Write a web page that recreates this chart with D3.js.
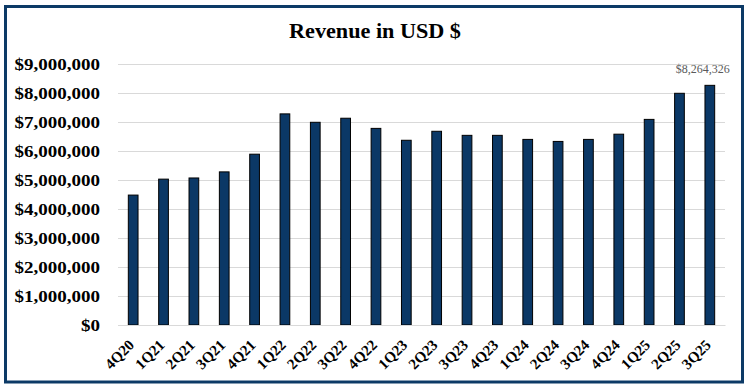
<!DOCTYPE html>
<html lang="en">
<head>
    <meta charset="UTF-8">
    <title>Revenue in USD $</title>
    <script src="https://d3js.org/d3.v7.min.js"></script>
    <style>
        body { margin: 0; background: #fff; }
        text { font-family: "Liberation Serif", "Times New Roman", serif; }
    </style>
</head>
<body>
    <svg id="chart" width="750" height="391"></svg>
    <script>
        // Chart data
        const quarters = ["4Q20", "1Q21", "2Q21", "3Q21", "4Q21", "1Q22", "2Q22", "3Q22", "4Q22", "1Q23",
            "2Q23", "3Q23", "4Q23", "1Q24", "2Q24", "3Q24", "4Q24", "1Q25", "2Q25", "3Q25"];
        const revenue = [4480000, 5030000, 5070000, 5280000, 5890000, 7280000, 6990000, 7130000, 6780000, 6370000,
            6680000, 6540000, 6540000, 6400000, 6330000, 6400000, 6580000, 7090000, 7990000, 8264326];
        const yTicks = [0, 1000000, 2000000, 3000000, 4000000, 5000000, 6000000, 7000000, 8000000, 9000000];

        const svg = d3.select("#chart");
        const margin = { top: 64, right: 25, bottom: 66, left: 118 },
            width = 750 - margin.left - margin.right,
            height = 391 - margin.top - margin.bottom;

        // Outer frame
        svg.append("rect")
            .attr("x", 5.5).attr("y", 6.5)
            .attr("width", 737).attr("height", 375.5)
            .attr("fill", "#fff")
            .attr("stroke", "#0c3a66")
            .attr("stroke-width", 3);

        // Title (the original is slightly stretched horizontally)
        svg.append("g")
            .attr("transform", "translate(375,38)")
            .append("text")
            .attr("text-anchor", "middle")
            .attr("font-size", 20)
            .attr("font-weight", "bold")
            .attr("transform", "scale(1.11,1)")
            .text("Revenue in USD $");

        const g = svg.append("g").attr("transform", `translate(${margin.left},${margin.top})`);

        const x = d3.scaleBand()
            .domain(quarters)
            .range([0, width])
            .paddingInner(0.68)
            .paddingOuter(0.34);

        const y = d3.scaleLinear()
            .domain([0, 9000000])
            .range([height, 0]);

        // Gridlines
        g.append("g")
            .selectAll("line")
            .data(yTicks)
            .enter().append("line")
            .attr("x1", 0).attr("x2", width)
            .attr("y1", d => Math.round(y(d)) + 0.5)
            .attr("y2", d => Math.round(y(d)) + 0.5)
            .attr("stroke", "#d9d9d9")
            .attr("stroke-width", 1);

        // Y axis labels
        const yAxis = g.append("g")
            .call(d3.axisLeft(y).tickValues(yTicks).tickSize(0).tickPadding(16)
                .tickFormat(d => "$" + d3.format(",")(d)));
        yAxis.select(".domain").remove();
        yAxis.selectAll("text")
            .attr("font-size", 17)
            .attr("font-weight", "bold")
            .attr("fill", "#000")
            .attr("transform", "scale(1.12,1)");

        // Bars
        g.selectAll(".bar")
            .data(revenue)
            .enter().append("rect")
            .attr("class", "bar")
            .attr("x", (d, i) => x(quarters[i]))
            .attr("y", d => y(d))
            .attr("width", x.bandwidth())
            .attr("height", d => height - y(d))
            .attr("fill", "#0b3866")
            .attr("stroke", "#000")
            .attr("stroke-width", 1);

        // X axis
        const xAxis = g.append("g")
            .attr("transform", `translate(0,${height})`)
            .call(d3.axisBottom(x).tickSize(0).tickPadding(0));
        xAxis.select(".domain").attr("stroke", "#d9d9d9");
        xAxis.selectAll("text")
            .attr("font-size", 15)
            .attr("font-weight", "bold")
            .attr("fill", "#000")
            .attr("text-anchor", "end")
            .attr("dy", "0")
            .attr("transform", "translate(2,21) rotate(-45)");

        // Data label on the last bar
        const last = revenue.length - 1;
        g.append("text")
            .attr("x", x(quarters[last]) + x.bandwidth() / 2 - 7)
            .attr("y", y(revenue[last]) - 12)
            .attr("text-anchor", "middle")
            .attr("font-size", 12)
            .attr("fill", "#595959")
            .text("$" + d3.format(",")(revenue[last]));
    </script>
</body>
</html>
